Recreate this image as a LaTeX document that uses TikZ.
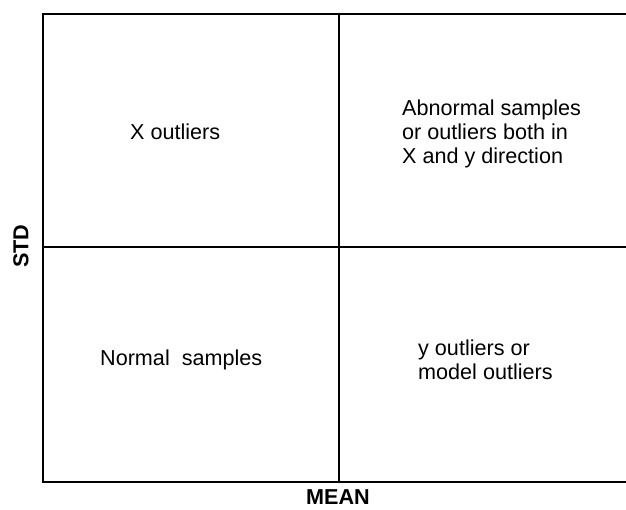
\documentclass[tikz,border=0pt]{standalone}
\usepackage{fontspec}
\setmainfont{Liberation Sans}
\usetikzlibrary{positioning}

\begin{document}
\begin{tikzpicture}[x=1pt,y=-1pt,font=\fontsize{21.6}{24}\selectfont]
\useasboundingbox (0,0) rectangle (626,509);
\tikzset{frame/.style={line width=2.8pt},
  label/.style={align=left,inner sep=0pt,anchor=west}}
% quadrant frame (open at the right)
\coordinate (tl) at (43,14);
\coordinate (bl) at (43,482);
\coordinate (tr) at (626,14);
\coordinate (br) at (626,482);
\draw[frame] (tr) -- (tl) -- (bl) -- (br);
\draw[frame] (339,14) -- (339,482);
\draw[frame] (43,247) -- (626,247);
% quadrant texts
\node[label] (xout) at (130,132) {X outliers};
\node[label] (abn) at (402,134) {Abnormal samples\\or outliers both in\\X and y direction};
\node[label] (norm) at (100,360) {Normal\ \ samples};
\node[label] (yout) at (418,360) {y outliers or\\model outliers};
% axis titles
\node[font=\fontsize{21.6}{24}\selectfont\bfseries,rotate=90] (std) at (21,246) {STD};
\node[font=\fontsize{21.6}{24}\selectfont\bfseries] (mean) at (338,497) {MEAN};
\end{tikzpicture}
\end{document}
